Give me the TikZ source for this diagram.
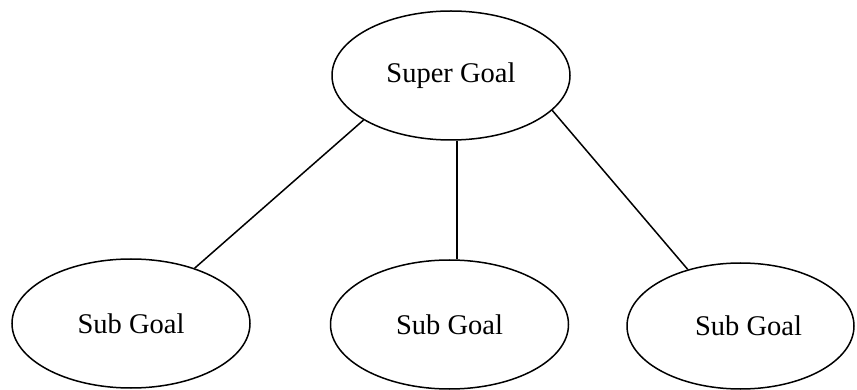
\documentclass[tikz,border=0pt]{standalone}
\usepackage{fontspec}
\setmainfont{Liberation Serif}
\usetikzlibrary{shapes.geometric}
\begin{document}
\begin{tikzpicture}[x=1pt,y=-1pt,
  goal/.style={ellipse, draw, line width=1.5pt, inner sep=0pt,
    minimum width=238pt, minimum height=129pt,
    font=\fontsize{28.5}{34}\selectfont},
  link/.style={line width=1.5pt}]
\useasboundingbox (0,0) rectangle (857,390);
\node[goal] (super) at (451,75.5) {Super Goal};
\node[goal] (left) at (131,323.5) {Sub Goal};
\node[goal] (mid) at (449.5,324.5) {Sub Goal};
\node[goal, minimum width=227pt, minimum height=126pt] (right) at (740.5,326) {\hspace*{16pt}Sub Goal};
\draw[link] (super.207.9) -- (left.41.9);
\draw[link] ([xshift=6pt]super.south) -- ([xshift=6pt]super.south |- mid.north);
\draw[link] (super.341.8) -- (right.133);
\end{tikzpicture}
\end{document}
